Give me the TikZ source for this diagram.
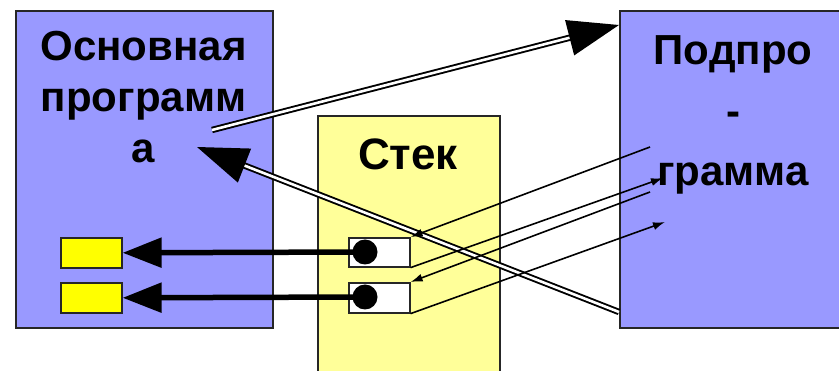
\documentclass[tikz,border=0pt]{standalone}
\usepackage{fontspec}
\setmainfont{Liberation Sans}
\usetikzlibrary{positioning}
\usetikzlibrary{arrows.meta}
\definecolor{progblue}{HTML}{9999FF}
\definecolor{stackyellow}{HTML}{FFFF99}
\definecolor{varyellow}{HTML}{FFFF00}
\tikzset{
  block/.style={draw=black!85, line width=1.6pt, anchor=north west, inner sep=0pt},
  boxtext/.style={font=\bfseries\fontsize{42}{51}\selectfont, align=center, inner sep=0pt, anchor=base},
  thickarrow/.style={line width=5.5pt, -{Triangle[length=39pt,width=29pt]}},
  doublearrow/.style={double=white, double distance=2.6pt, line width=1.9pt, -{Triangle[length=51pt,width=36pt]}},
  thinarrow/.style={line width=1.6pt, -{Latex[length=12pt,width=8pt]}}
}
\begin{document}
\begin{tikzpicture}[x=1pt,y=-1pt]
\useasboundingbox (0,0) rectangle (839,371);
% blocks
\node[block, fill=progblue, minimum width=257pt, minimum height=317pt] (main) at (15,10) {};
\node[block, fill=stackyellow, minimum width=182pt, minimum height=270pt] (stack) at (317,115) {};
\node[block, fill=progblue, minimum width=230pt, minimum height=317pt] (sub) at (619,10) {};
\node[boxtext] (maintxt) at (143.5,163) {Основная\\программ\\а};
\node[boxtext, font=\bfseries\fontsize{42}{60.5}\selectfont] (subtxt) at (733,186) {Подпро\\-\\грамма};
\node[boxtext, font=\bfseries\fontsize{44}{51}\selectfont] (stacktxt) at (408,170) {Стек};
% stack cells and variables
\node[block, fill=white, minimum width=61pt, minimum height=29pt] (cell1) at (348,237) {};
\node[block, fill=white, minimum width=61pt, minimum height=30pt] (cell2) at (348,282) {};
\node[block, fill=varyellow, minimum width=61pt, minimum height=30pt] (var1) at (60,237) {};
\node[block, fill=varyellow, minimum width=61pt, minimum height=30pt] (var2) at (60,282) {};
\node[circle, fill=black, minimum size=25pt, inner sep=0pt] (dot1) at (365,252) {};
\node[circle, fill=black, minimum size=25pt, inner sep=0pt] (dot2) at (365,297) {};
\draw[thickarrow] (dot1.center) -- (var1.east);
\draw[thickarrow] (dot2.center) -- (var2.east);
% call and return
\coordinate (callfrom) at (212,130);
\coordinate (callto) at (619,25);
\coordinate (retfrom) at (619,312);
\coordinate (retto) at (197,147);
\draw[doublearrow] (callfrom) -- (callto);
\draw[doublearrow] (retfrom) -- (retto);
% parameters
\coordinate (par1) at (650,147);
\coordinate (par2) at (663,178);
\coordinate (par3) at (650,192);
\coordinate (par4) at (665,222);
\draw[thinarrow] (par1) -- (cell1.north east);
\draw[thinarrow] (cell1.south east) -- (par2);
\draw[thinarrow] (par3) -- (cell2.north east);
\draw[thinarrow] (cell2.south east) -- (par4);
\end{tikzpicture}
\end{document}
